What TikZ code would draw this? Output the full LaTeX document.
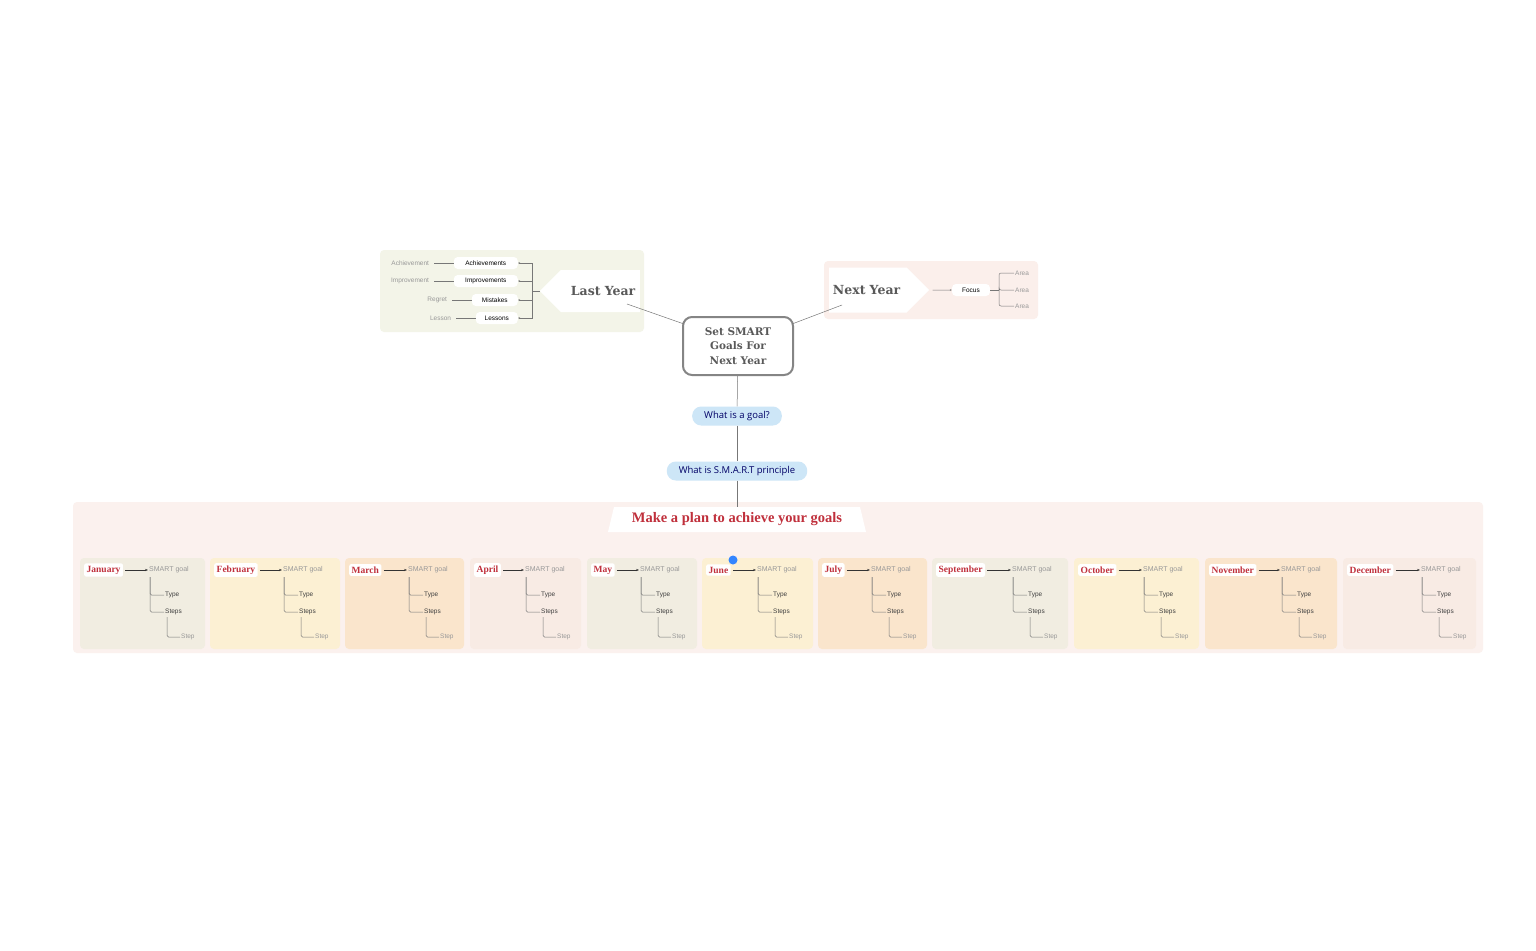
\documentclass[tikz,border=0pt]{standalone}
\usepackage{fontspec}
\setmainfont{Liberation Sans}
\newfontfamily\slab{DejaVu Serif}
\newfontfamily\tms{Liberation Serif}
\newfontfamily\opn{Open Sans}
\usetikzlibrary{shapes.arrows,arrows.meta}
\definecolor{lyb}{HTML}{F3F4E8}
\definecolor{nyb}{HTML}{FBEFEB}
\definecolor{plan}{HTML}{FBF1EE}
\definecolor{c1}{HTML}{F1EDE1}
\definecolor{c2}{HTML}{FCF0D3}
\definecolor{c3}{HTML}{FAE5CC}
\definecolor{c4}{HTML}{F8EBE4}
\definecolor{bluep}{HTML}{CDE6F7}
\definecolor{mred}{HTML}{C0303C}
\definecolor{gtx}{HTML}{999999}
\definecolor{ln}{HTML}{777777}
\tikzset{
 x=1pt,y=-1pt,
 panel/.style={fill=#1,draw=none,rounded corners=4pt},
 small/.style={font=\fontsize{6.5}{7}\selectfont,inner sep=1pt},
 pill/.style={small,fill=white,rounded corners=4pt,minimum height=12pt,inner xsep=7pt},
 gray/.style={small,text=gtx},
 conn/.style={draw=ln,line width=0.5pt},
 bpill/.style={fill=bluep,rounded corners=9pt,font=\opn\fontsize{9.5}{11}\selectfont,text=black!60!blue,minimum height=19pt,inner xsep=12pt},
 month/.style={fill=white,rounded corners=2pt,font=\tms\bfseries\fontsize{9.5}{10}\selectfont,text=mred,inner sep=2.5pt},
}
\begin{document}
\begin{tikzpicture}
\useasboundingbox (0,0) rectangle (1536,950);
\fill[white] (0,0) rectangle (1536,950);
% panels
\fill[panel=lyb] (380,250) rectangle (644,332);
\fill[panel=nyb] (824,261) rectangle (1038,319);
\fill[panel=plan] (73,502) rectangle (1483,653);
% center
\node[draw=ln!90,line width=2pt,rounded corners=9pt,fill=white,minimum width=110pt,minimum height=58pt,align=center,font=\slab\bfseries\fontsize{10.5}{14.5}\selectfont,text=black!65] (c) at (738,346) {Set SMART\\Goals For\\Next Year};
% last year
\node[single arrow,shape border rotate=180,fill=white,minimum height=100pt,minimum width=42pt,single arrow head extend=0pt,inner sep=1pt,font=\slab\bfseries\fontsize{12.5}{13}\selectfont,text=black!65,anchor=east,text width=70pt,align=right] (ly) at (640,291) {Last Year};
\coordinate (lyt) at (627,304);
\draw[conn] (c.north west) ++(2,8) -- (lyt);
\foreach \n/\t/\g/\y/\xr/\w in {a/Achievements/Achievement/263/518/64,b/Improvements/Improvement/281/518/64,m/Mistakes/Regret/300/518/46,l/Lessons/Lesson/318/518/42}{
 \node[pill,minimum width=\w pt,anchor=east] (\n) at (\xr,\y) {\t};
 \node[gray,anchor=east,outer sep=4pt] (\n g) at (\xr-\w-20,\y) {\g};
 \draw[conn] (\n g) -- (\n);
}
\coordinate (lb) at (532,291);
\draw[conn] (lb) -- (540,291);
\foreach \n in {a,b,m,l}{\draw[conn,-{Stealth[length=2pt]}] (lb) |- (\n.east);}
% next year
\node[single arrow,fill=white,minimum height=100pt,minimum width=45pt,single arrow head extend=0pt,inner sep=1pt,font=\slab\bfseries\fontsize{12.5}{13}\selectfont,text=black!65,anchor=west,text width=70pt,align=left] (ny) at (829,290) {Next Year};
\coordinate (nyt) at (842,305);
\draw[conn] (c.north east) ++(-2,8) -- (nyt);
\node[pill,minimum width=38pt] (f) at (971,290) {Focus};
\draw[conn,-{Stealth[length=2pt]}] (ny.east) ++(3,0) -- (f.west);
\coordinate (fb) at (999,290);
\draw[conn] (f.east) -- (fb);
\foreach \y in {273,290,306}{\node[gray,anchor=west] (ar\y) at (1014,\y) {Area}; \draw[conn,rounded corners=2pt] (fb) |- (ar\y.west);}
% blue pills
\node[bpill] (q1) at (737,416) {What is a goal?};
\node[bpill] (q2) at (737,471) {What is S.M.A.R.T principle};
\fill[white] (614,507) -- (860,507) -- (866,532) -- (608,532) -- cycle;
\node[font=\tms\bfseries\fontsize{14.5}{15}\selectfont,text=mred] (pl) at (737,519) {Make a plan to achieve your goals};
\coordinate (plt) at (737,507);
\draw[conn] (c) -- (q1); \draw[conn] (q1) -- (q2); \draw[conn] (q2) -- (plt);
% months
\foreach \m/\x/\xe/\s/\col in {January/80/205/149/c1,February/210/340/283/c2,March/345/464/408/c3,April/470/581/525/c4,May/587/697/640/c1,June/702/813/757/c2,July/818/927/871/c3,September/932/1068/1012/c1,October/1074/1199/1143/c2,November/1205/1337/1281/c3,December/1343/1476/1421/c4}{
 \fill[panel=\col] (\x,558) rectangle (\xe,649);
 \node[month,anchor=west] (m\m) at (\x+4,570) {\m};
 \node[gray,anchor=west,font=\fontsize{7}{8}\selectfont] (s\m) at (\s-1,570) {SMART goal};
 \draw[draw=black!80,line width=0.5pt,-{Stealth[length=3pt]}] (m\m.east) ++(2,0) -- (s\m.west);
 \node[small,anchor=west,text=black!75] (t\m) at (\s+15,595) {Type};
 \node[small,anchor=west,text=black!75] (p\m) at (\s+15,612) {Steps};
 \node[small,anchor=west,text=gtx] (q\m) at (\s+31,637) {Step};
 \draw[conn,rounded corners=1.5pt] (\s+1,577) |- (t\m.west);
 \draw[conn,rounded corners=1.5pt] (\s+1,577) |- (p\m.west);
 \draw[conn,rounded corners=1.5pt] (\s+18,617) |- (q\m.west);
}
\fill[blue!60!cyan!80] (733,560) circle (4.5pt);
\end{tikzpicture}
\end{document}
